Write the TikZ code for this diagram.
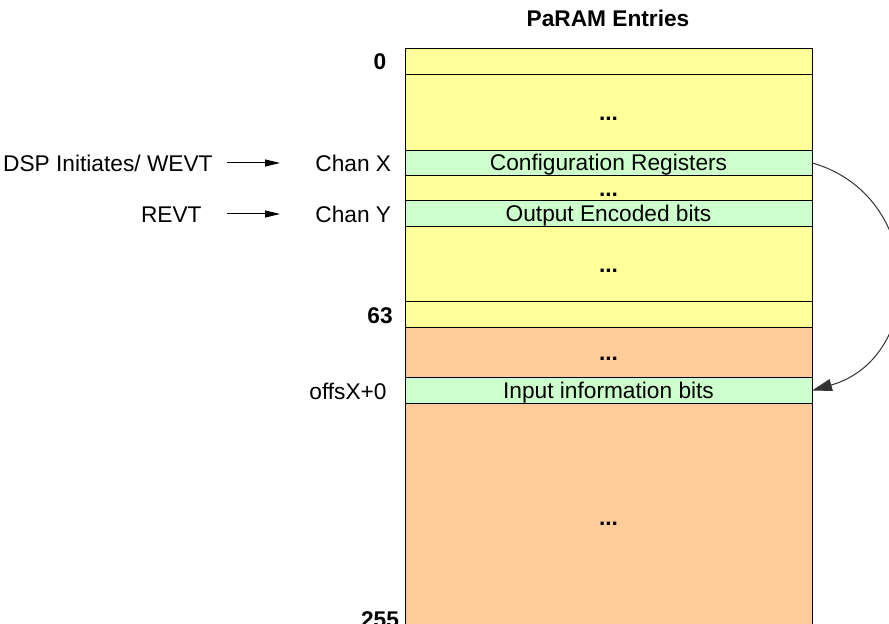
\documentclass[tikz,border=0pt]{standalone}
\usepackage{fontspec}
\setmainfont{Liberation Sans}
\usetikzlibrary{arrows.meta, positioning}
\definecolor{padyellow}{HTML}{FFFF99}
\definecolor{padgreen}{HTML}{CCFFCC}
\definecolor{padorange}{HTML}{FFCC99}
\newcommand\diagfont{\fontsize{11.35}{13.6}\selectfont}

\begin{document}
\begin{tikzpicture}[
x=0.5pt, y=-0.5pt,
font=\diagfont,
cell/.style={draw, line width=0.5pt, minimum width=203.5pt, minimum height=12.65pt, inner sep=0pt, outer sep=0pt, text height=8.13pt, text depth=0pt},
ycell/.style={cell, fill=padyellow},
gcell/.style={cell, fill=padgreen},
ocell/.style={cell, fill=padorange},
lbl/.style={inner sep=0pt, text height=8.13pt, text depth=0pt},
idx/.style={lbl, font=\diagfont\bfseries},
arrow/.style={-{Triangle[length=7.5pt, width=3.5pt]}, line width=0.5pt},
jump/.style={-{Triangle[length=10pt, width=6pt]}, line width=0.5pt, draw=black!80}
]
\useasboundingbox (0,0) rectangle (889,624);
\fill[white] (0,0) rectangle (889,624);
\clip (0,0) rectangle (889,624);

\node[idx] (title) at (608,18) {PaRAM Entries};

% PaRAM column
\node[ycell, anchor=north west] (r0) at (405,49) {};
\node[ycell, minimum height=37.95pt, below=0pt of r0] (r1) {\textbf{...}};
\node[gcell, below=0pt of r1] (cfg) {Configuration Registers};
\node[ycell, below=0pt of cfg] (r3) {\textbf{...}};
\node[gcell, below=0pt of r3] (out) {Output Encoded bits};
\node[ycell, minimum height=37.95pt, below=0pt of out] (r5) {\textbf{...}};
\node[ycell, below=0pt of r5] (r63) {};
\node[ocell, minimum height=25.3pt, below=0pt of r63] (r7) {\textbf{...}};
\node[gcell, below=0pt of r7] (inp) {Input information bits};
\node[ocell, minimum height=113.85pt, below=0pt of inp] (r9) {\textbf{...}};

% indices
\node[idx] (i0) at (380,61.5) {0};
\node[idx] (i63) at (380,315) {63};
\node[idx] (i255) at (380,619) {255};
\node[lbl, anchor=east] (offs) at (387,391.5) {offsX+0};

% channels and events
\node[lbl, anchor=west] (chanx) at (315,163) {Chan X};
\node[lbl, anchor=west] (chany) at (315,214) {Chan Y};
\node[lbl, anchor=east] (dsp) at (213,163) {DSP Initiates/ WEVT};
\node[lbl, anchor=east] (revt) at (202,214) {REVT};

\draw[arrow] ([xshift=7pt]dsp.east) -- ([xshift=-17.5pt]chanx.west);
\draw[arrow] ([xshift=12.5pt]revt.east) -- ([xshift=-17.5pt]chany.west);
\draw[jump] (cfg.east) to[out=-16, in=16, looseness=1.34] (inp.east);
\end{tikzpicture}
\end{document}
